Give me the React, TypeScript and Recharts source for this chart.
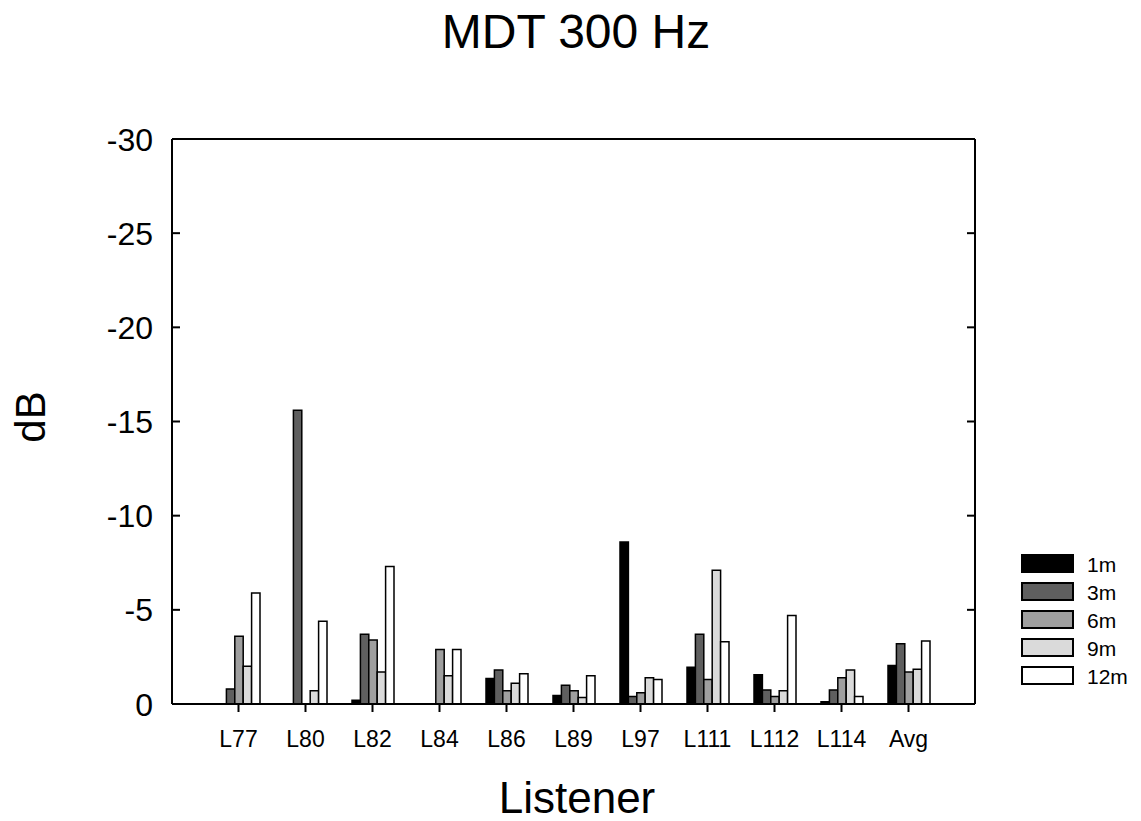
import React from 'react';
import { BarChart, Bar, XAxis, YAxis } from 'recharts';

const listeners = ['L77', 'L80', 'L82', 'L84', 'L86', 'L89', 'L97', 'L111', 'L112', 'L114', 'Avg'];

// magnitudes in dB (axis shows them as negatives)
const d1m = [0, 0, 0.2, 0, 1.35, 0.45, 8.6, 1.95, 1.55, 0.12, 2.05];
const d3m = [0.8, 15.6, 3.7, 0, 1.8, 1.0, 0.4, 3.7, 0.75, 0.75, 3.2];
const d6m = [3.6, 0, 3.4, 2.9, 0.7, 0.7, 0.6, 1.3, 0.4, 1.4, 1.7];
const d9m = [2.0, 0.7, 1.7, 1.5, 1.1, 0.35, 1.4, 7.1, 0.7, 1.8, 1.85];
const d12m = [5.9, 4.4, 7.3, 2.9, 1.6, 1.5, 1.3, 3.3, 4.7, 0.4, 3.35];

const yTicks = [0, 5, 10, 15, 20, 25, 30];

const series = [
  { key: 'm1', name: '1m', values: d1m, fill: '#000000' },
  { key: 'm3', name: '3m', values: d3m, fill: '#5f5f5f' },
  { key: 'm6', name: '6m', values: d6m, fill: '#9f9f9f' },
  { key: 'm9', name: '9m', values: d9m, fill: '#dadada' },
  { key: 'm12', name: '12m', values: d12m, fill: '#ffffff' },
];

const rows = listeners.map((name, i) => {
  const row: any = { name };
  series.forEach(s => { row[s.key] = s.values[i]; });
  return row;
});

const FONT = '"Liberation Sans", Arial, sans-serif';

const LeftTick = (props: any) => {
  const { x, y, payload } = props;
  const v = payload.value;
  return (
    <g>
      <line x1={x + 19} x2={x + 27} y1={y} y2={y} stroke="#000" strokeWidth={2} />
      <text x={x} y={y} dy="0.36em" textAnchor="end" fontSize={32} fill="#000" fontFamily={FONT}>
        {v === 0 ? '0' : `-${v}`}
      </text>
    </g>
  );
};

const RightTick = (props: any) => {
  const { x, y } = props;
  return <line x1={x - 8} x2={x} y1={y} y2={y} stroke="#000" strokeWidth={2} />;
};

export default function App() {
  return (
    <div style={{ position: 'fixed', left: 0, top: 0, width: 1141, height: 821, background: '#fff', fontFamily: FONT }}>
      <BarChart
        width={1141}
        height={821}
        data={rows}
        margin={{ top: 138, right: 165, bottom: 67, left: 0 }}
        barGap={0}
      >
        <XAxis
          dataKey="name"
          height={50}
          padding={{ left: 33, right: 33 }}
          axisLine={{ stroke: '#000', strokeWidth: 2 }}
          tickLine={{ stroke: '#000', strokeWidth: 2 }}
          tickSize={8}
          tickMargin={19}
          tick={{ fill: '#000', fontSize: 23, fontFamily: FONT }}
          interval={0}
        />
        <XAxis
          xAxisId="top"
          orientation="top"
          dataKey="name"
          height={1}
          axisLine={{ stroke: '#000', strokeWidth: 2 }}
          tickLine={false}
          tick={false}
        />
        <YAxis
          yAxisId="left"
          width={172}
          domain={[0, 30]}
          ticks={yTicks}
          allowDataOverflow
          axisLine={{ stroke: '#000', strokeWidth: 2 }}
          tickLine={false}
          tickSize={0}
          tickMargin={19}
          tick={<LeftTick />}
        />
        <YAxis
          yAxisId="right"
          orientation="right"
          width={1}
          domain={[0, 30]}
          ticks={yTicks}
          allowDataOverflow
          axisLine={{ stroke: '#000', strokeWidth: 2 }}
          tickLine={false}
          tickSize={0}
          tickMargin={0}
          tick={<RightTick />}
        />
        {series.map(s => (
          <Bar
            key={s.key}
            yAxisId="left"
            dataKey={s.key}
            name={s.name}
            fill={s.fill}
            stroke="#000"
            strokeWidth={1.5}
            barSize={8.4}
            isAnimationActive={false}
          />
        ))}
      </BarChart>
      <svg width={1141} height={821} style={{ position: 'absolute', left: 0, top: 0, pointerEvents: 'none' }}>
        <text x={576} y={48} textAnchor="middle" fontSize={48} fill="#000" fontFamily={FONT}>MDT 300 Hz</text>
        <text x={577} y={813} textAnchor="middle" fontSize={44} fill="#000" fontFamily={FONT}>Listener</text>
        <text transform="translate(45,417) rotate(-90)" textAnchor="middle" fontSize={42} fill="#000" fontFamily={FONT}>dB</text>
        {series.map((s, i) => (
          <g key={s.key}>
            <rect x={1022} y={555 + i * 28} width={51} height={17} fill={s.fill} stroke="#000" strokeWidth={2} />
            <text x={1087} y={564 + i * 28} dy="0.36em" fontSize={21} fill="#000" fontFamily={FONT}>{s.name}</text>
          </g>
        ))}
      </svg>
    </div>
  );
}
